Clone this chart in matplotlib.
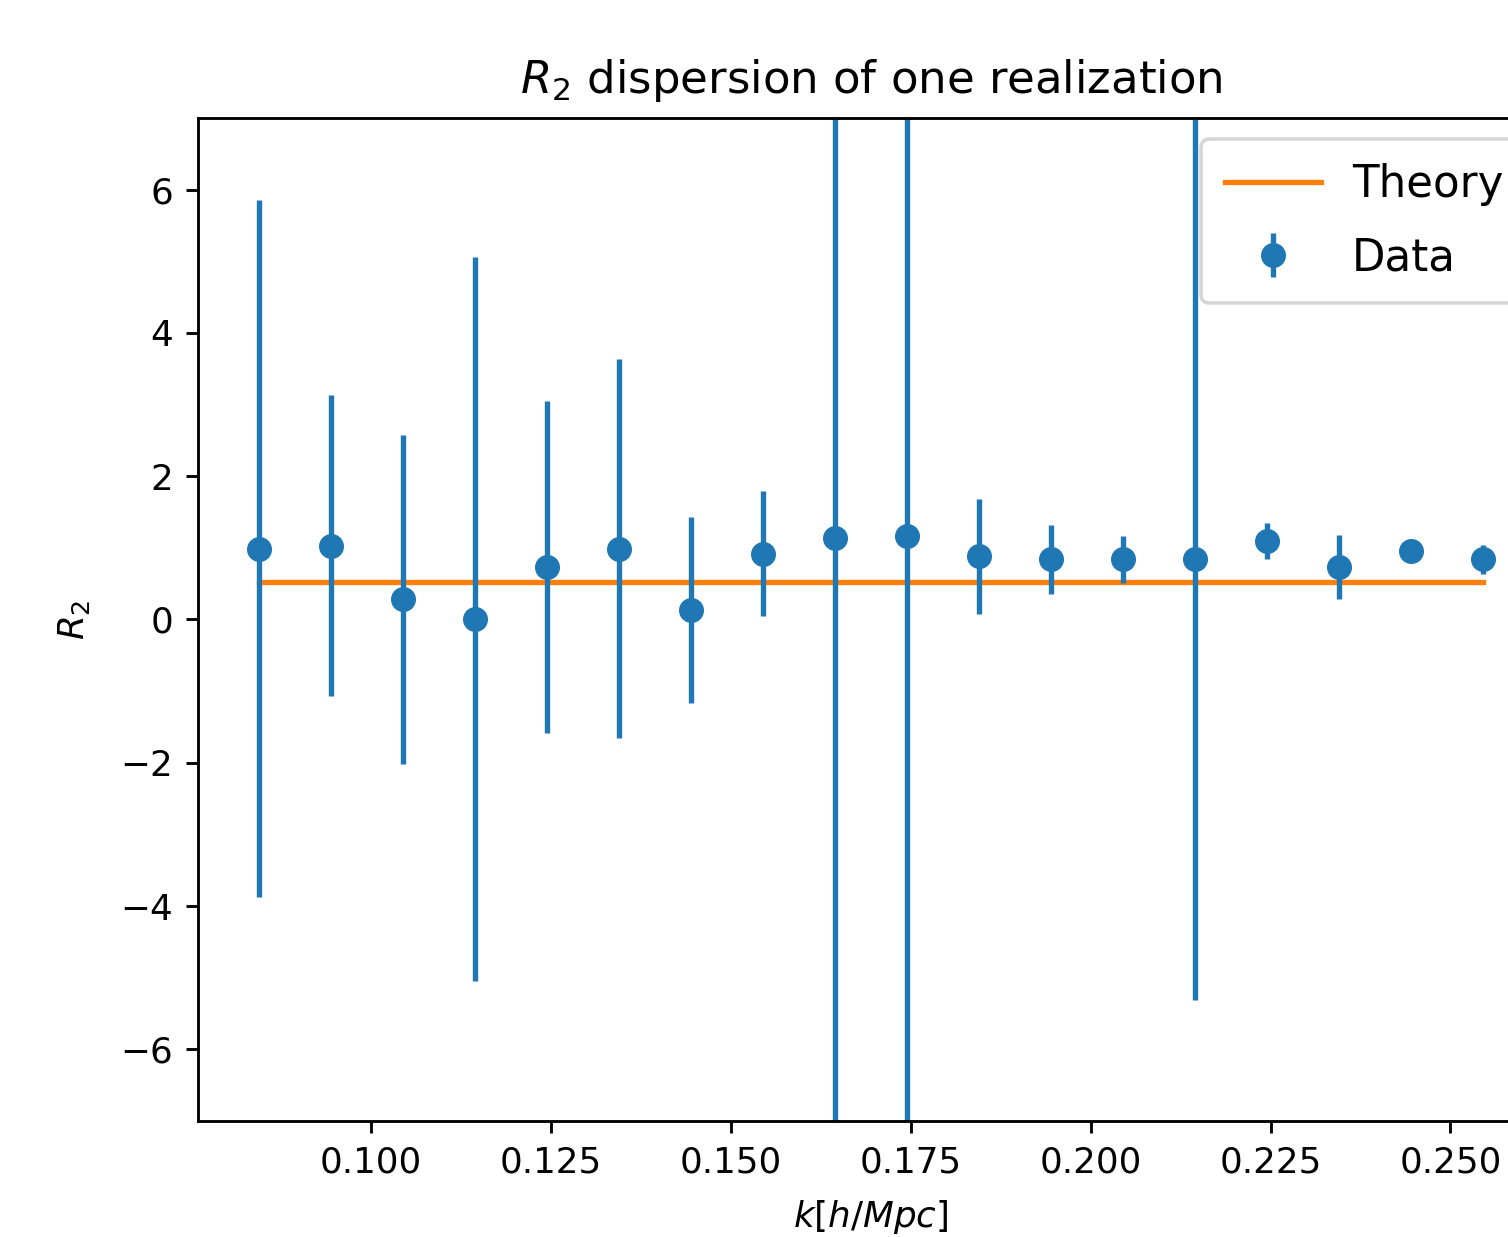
import numpy as np
import matplotlib
matplotlib.use("Agg")
import matplotlib.pyplot as plt

# k bin centres and measured R2 values with their errors
k = [0.0845, 0.0945, 0.1045, 0.1145, 0.1245, 0.1345, 0.1445, 0.1545, 0.1645,
     0.1745, 0.1845, 0.1945, 0.2045, 0.2145, 0.2245, 0.2345, 0.2445, 0.2545]
r2 = [0.99, 1.03, 0.28, 0.01, 0.73, 0.99, 0.13, 0.92, 1.14,
      1.17, 0.88, 0.84, 0.84, 0.84, 1.10, 0.73, 0.95, 0.84]
r2_err = [4.86, 2.10, 2.30, 5.05, 2.32, 2.65, 1.30, 0.87, 9.0,
          10.5, 0.80, 0.48, 0.33, 6.15, 0.25, 0.45, 0.10, 0.20]
r2_theory = [0.53] * len(k)

dpi = 257
fig = plt.figure(figsize=(1508 / dpi, 1237 / dpi), dpi=dpi)
ax = fig.add_axes([0.1313, 0.0938, 0.8926, 0.8108])

ax.plot(k, r2_theory, color='C1', label='Theory')
ax.errorbar(k, r2, yerr=r2_err, fmt='o', color='C0', label='Data')

ax.set_ylim(-7, 7)
ax.set_title(r'$R_2$ dispersion of one realization', fontsize=12.6, pad=7)
ax.set_xlabel(r'$k [h/Mpc]$', labelpad=5)
ax.set_ylabel(r'$R_2$', labelpad=8)
ax.legend(loc='upper left', fontsize=12.2, handlelength=2.2, handletextpad=0.7,
          labelspacing=0.7, borderpad=0.55, borderaxespad=0,
          bbox_to_anchor=(0.7455, 0.979))

fig.savefig('out.png', dpi=dpi)
